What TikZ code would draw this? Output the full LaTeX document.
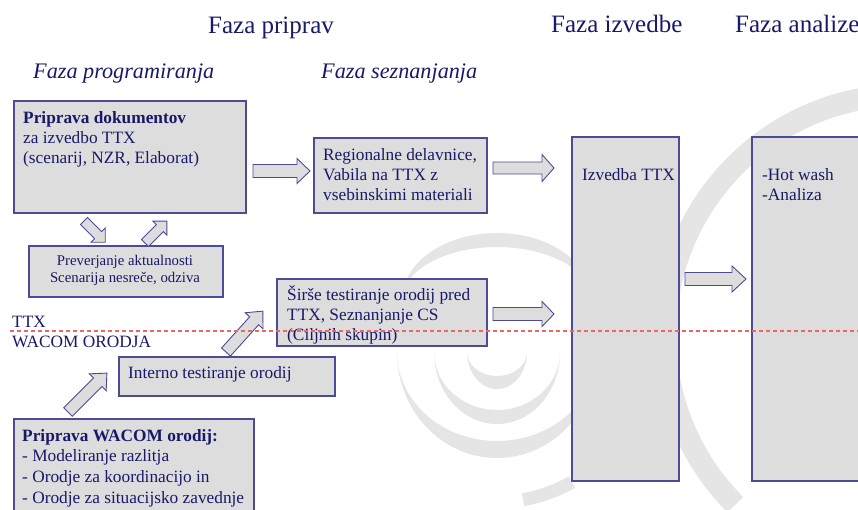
\documentclass[tikz,border=0pt]{standalone}
\usepackage{fontspec}
\setmainfont{Liberation Serif}
\definecolor{txt}{RGB}{25,25,105}
\definecolor{bord}{RGB}{75,75,150}
\definecolor{boxfill}{RGB}{221,221,221}
\definecolor{wm}{RGB}{229,229,229}
\definecolor{redline}{RGB}{240,100,100}
\tikzset{
  pics/barrow/.style n args={4}{code={
    \draw[arrowshape] (0,-#2) -- ({#1-#4},-#2) -- ({#1-#4},-#3) -- (#1,0) -- ({#1-#4},#3) -- ({#1-#4},#2) -- (0,#2) -- cycle;
  }},
  arrowshape/.style={draw=bord, line width=0.9pt, fill=boxfill, line join=miter},
  boxstyle/.style={draw=bord, line width=1.1pt, fill=boxfill, rectangle, inner sep=0pt, outer sep=0pt, anchor=north west},
  bodytext/.style={text=txt, font=\fontsize{17.3}{20}\selectfont, align=left, inner sep=0pt, anchor=base west},
  smalltext/.style={text=txt, font=\fontsize{14.8}{17}\selectfont, align=center, inner sep=0pt, anchor=base},
  headtext/.style={text=txt, font=\fontsize{25}{30}\selectfont, inner sep=0pt, anchor=base west},
  subhead/.style={text=txt, font=\fontsize{22.2}{26}\selectfont\itshape, inner sep=0pt, anchor=base west},
}
\begin{document}
\begin{tikzpicture}[x=1pt,y=-1pt]
\clip (0,0) rectangle (858,509);
\fill[white] (0,0) rectangle (858,509);
% watermark swirl
\fill[wm] (467,352) arc[start angle=180,end angle=0,x radius=30,y radius=37] arc[start angle=0,end angle=180,x radius=30,y radius=24] -- cycle;
\fill[wm] (434,352) arc[start angle=180,end angle=0,x radius=63,y radius=72] arc[start angle=0,end angle=180,x radius=63,y radius=58] -- cycle;
\fill[wm] (397,352) arc[start angle=180,end angle=0,x radius=100,y radius=106] arc[start angle=0,end angle=180,x radius=100,y radius=89] -- cycle;
\fill[wm] (402,300) arc[start angle=180,end angle=360,x radius=95,y radius=67] arc[start angle=360,end angle=180,x radius=95,y radius=53] -- cycle;
\draw[wm, line width=22pt] (905,335) ++(-98:240) arc[start angle=-98,end angle=-225,radius=240];
\draw[wm, line width=13pt] (497,352) ++(60:150) arc[start angle=60,end angle=80,radius=150];
% boxes
\node[boxstyle, minimum width=232, minimum height=112] (A) at (14,101) {};
\node[boxstyle, minimum width=173, minimum height=75] (B) at (314,138) {};
\node[boxstyle, minimum width=194, minimum height=51] (C) at (29,246) {};
\node[boxstyle, minimum width=210, minimum height=67] (D) at (277,279) {};
\node[boxstyle, minimum width=216, minimum height=39] (E) at (119,357) {};
\node[boxstyle, minimum width=240, minimum height=110] (F) at (14,419) {};
\node[boxstyle, minimum width=107, minimum height=344] (Iz) at (572,137) {};
\node[boxstyle, minimum width=120, minimum height=344] (An) at (752,137) {};
% block arrows
\coordinate (t1) at (253,171);
\coordinate (t2) at (493,168);
\coordinate (t3) at (493,314);
\coordinate (t4) at (685,279);
\coordinate (t5) at (84,221);
\coordinate (t6) at (145,243);
\coordinate (t7) at (68,412);
\coordinate (t8) at (226,352);
\pic at (t1) {barrow={57}{6.5}{12.5}{13}};
\pic at (t2) {barrow={61}{6}{13.5}{12}};
\pic at (t3) {barrow={61}{6.5}{12.5}{12}};
\pic at (t4) {barrow={61}{6.5}{13}{14}};
\pic[rotate=-45] at (t5) {barrow={30}{5}{10}{10}};
\pic[rotate=45] at (t6) {barrow={31}{5}{10}{10}};
\pic[rotate=45] at (t7) {barrow={55}{6}{12}{13}};
\pic[rotate=48] at (t8) {barrow={55}{6}{12}{13}};
% texts (multi-line nodes are placed by the baseline of their last line)
\node[headtext] (h1) at (208,33) {Faza priprav};
\node[headtext] (h2) at (551,32) {Faza izvedbe};
\node[headtext] (h3) at (735,32) {Faza analize};
\node[subhead] (s1) at (33,78) {Faza programiranja};
\node[subhead] (s2) at (321,78) {Faza seznanjanja};
\node[bodytext] (At) at (23,163) {\textbf{Priprava dokumentov}\\za izvedbo TTX\\(scenarij, NZR, Elaborat)};
\node[bodytext] (Bt) at (323,200) {Regionalne delavnice,\\Vabila na TTX z\\vsebinskimi materiali};
\node[smalltext] (Ct) at (125,282) {Preverjanje aktualnosti\\Scenarija nesreče, odziva};
\node[bodytext] (Dt) at (287,340) {Širše testiranje orodij pred\\TTX, Seznanjanje CS\\(Ciljnih skupin)};
\node[bodytext] (Et) at (128,378) {Interno testiranje orodij};
\node[bodytext, font=\fontsize{17.3}{20.6}\selectfont] (Ft) at (22,503) {\textbf{Priprava WACOM orodij:}\\- Modeliranje razlitja\\- Orodje za koordinacijo in\\- Orodje za situacijsko zavednje};
\node[bodytext] (Izt) at (582,180) {Izvedba TTX};
\node[bodytext] (Ant) at (762,200) {-Hot wash\\-Analiza};
\node[bodytext] (ttx) at (12,327) {TTX};
\node[bodytext] (wac) at (12,347) {WACOM ORODJA};
% dashed divider
\coordinate (dl) at (10,331);
\coordinate (dr) at (858,331);
\draw[redline, line width=1.1pt, dash pattern=on 4pt off 3pt] (dl) -- (dr);
\end{tikzpicture}
\end{document}
